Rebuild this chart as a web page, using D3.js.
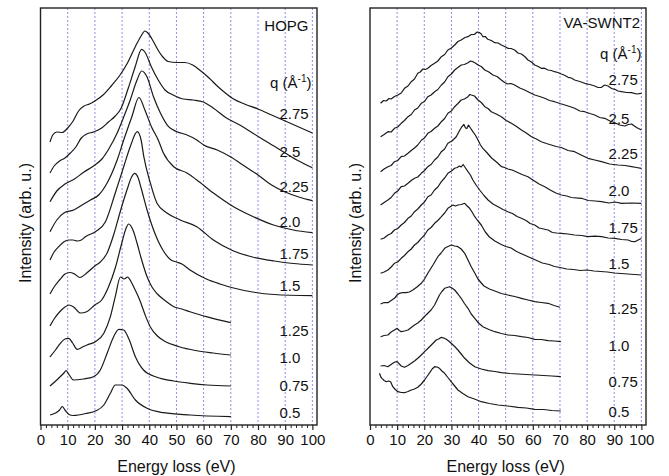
<!DOCTYPE html>
<html><head><meta charset="utf-8">
<script src="https://cdn.jsdelivr.net/npm/d3@7"></script>
<style>
body{margin:0;background:#fff}
svg{display:block}
</style>
</head><body>
<svg id="c" width="669" height="476"></svg>
<script>
// ---------------- DATA ----------------
const qValues = ["0.5","0.75","1.0","1.25","1.5","1.75","2.0","2.25","2.5","2.75"];
const energyTicks = [0,10,20,30,40,50,60,70,80,90,100];

// HOPG spectra: [energy loss (eV), intensity (arb. u., offset stacked)]
const hopg_q050 = [[3.5,9],[5.5,11],[7,14],[8,17.5],[9,14],[10.5,9.5],[12,8.5],[14,9],[17,10.7],[20.2,13],[23.3,19],[25.7,30.7],[27.5,39],[30,39],[31.8,35.7],[34.9,24],[39.2,15.7],[45.3,11.3],[55.1,9],[70,7.3]];
const hopg_q075 = [[3.5,38],[6,44],[8.6,51],[9.4,53.3],[10.6,49],[12.1,44],[15.8,45],[19.5,47.3],[22,54],[24.5,70.7],[26.9,87.3],[28.8,94.7],[30.6,94],[32.4,85.7],[34.9,67.3],[37.9,54],[42.8,46.7],[49,43],[55.1,40.7],[61.2,39],[70,38]];
const hopg_q100 = [[3.5,67],[5.5,74],[7.3,80.7],[9,85],[10.4,85.7],[11.8,81],[13.5,74.7],[15.5,77],[17.1,79],[20.2,82.3],[23.3,90.7],[25.7,107.3],[27.5,127.3],[29.4,147],[30.8,145],[32,147],[33.2,143],[34.3,137],[36.5,124],[38.5,109],[40.4,97],[43,88],[46,82.3],[51,77.3],[57,73.5],[63.5,71],[70,69]];
const hopg_q125 = [[3.5,98],[5,105],[7,112],[9,117],[10.5,119],[12.2,117],[14.7,111],[17,112.3],[20,119],[22.5,124],[25,137],[27.5,156],[30,182],[31.5,196],[32.4,200],[34,194],[35.5,181],[37,166],[39.2,147.3],[41,137],[43,130],[46,123],[49,117.3],[52,115],[55,112.3],[61,107.3],[70,101.3]];
const hopg_q150 = [[3.5,130],[5,137],[7,144],[9,150],[10.8,151.5],[12.5,150],[14.5,146.5],[17,151],[20,158],[22,162],[24.5,171],[27,190],[29.5,214],[31.8,234],[33.5,247],[34.6,250.7],[35.8,247],[37,236],[39.2,214],[41.6,194],[45,174],[48,164],[50,162],[52,160],[55,154],[61,145],[66,140],[71,136],[78,132],[86,129.5],[100,128.3]];
const hopg_q175 = [[3.5,164],[5,172],[6.7,177.3],[8.5,182],[10.4,184],[12,184],[13.5,183],[15,184],[16.5,187.3],[20.2,192.3],[23.9,202.3],[27.5,231],[30.6,257.3],[33,277.3],[35.6,292.3],[37,284],[38,267.3],[40.4,241],[42.8,221],[46.5,211],[51.4,204],[57.5,197.3],[63.6,184],[71,173],[78,167],[86,163],[93,160.5],[100,159]];
const hopg_q200 = [[3.5,192.3],[6,204],[8.6,211],[12.2,214],[15.3,219],[18.4,224],[21.4,229],[24.5,241],[28.2,264],[30.6,284],[33.6,307.3],[36.2,326.5],[38.4,314],[40.8,297.3],[43.3,284],[45.2,271],[49,257.3],[53.9,251],[57.5,244],[63.6,231],[71,217.3],[78.3,207.3],[85.7,199],[93,194],[100,191.3]];
const hopg_q225 = [[3.5,222.3],[6,233],[9,240],[12.5,245],[16,252],[19.5,258],[22.6,265],[25.1,275],[28.2,291],[30.6,307],[33,324],[35.5,344],[37.2,353],[39.2,347],[41.6,327],[44.1,311],[47.1,297.3],[50.2,292.3],[53.9,289],[57.5,284],[60,279],[65,274],[70,267],[75,258],[80,249],[85,239],[90,232],[95,227],[100,223.3]];
const hopg_q250 = [[3.5,251],[5,258],[7,263],[9,266],[11,271],[13,277],[15,286],[17,290],[19.5,292],[22.5,296],[25,302],[27.5,308],[29.5,315],[32.3,336],[34.8,357],[37.2,374.7],[38.4,372],[40.8,357],[43.3,344],[45.8,334],[48.8,329],[52.5,325],[56.2,324],[59.9,322],[63.5,316],[68.4,306],[73.3,299],[78,291],[84,281],[90,271],[95,263],[100,256.3]];
const hopg_q275 = [[3.5,282],[4.5,289],[6,292],[8,291.5],[10,296],[12,303],[14,313],[16,318],[18,320],[20,323],[23,329],[26,338],[29,348],[32,361],[35,378],[37,388],[38.4,393],[39.5,391],[41,385],[43,375],[45,367],[47,362.5],[50,361.5],[53,361.5],[56,359],[59,353],[62,346],[65,338],[68,331],[71,325],[75,320],[80,315],[85,309],[90,303],[95,297],[100,291]];

// VA-SWNT2 spectra
const swnt_q050 = [[3.5,50.7],[4,47],[4.4,45.7],[5.2,43.5],[6,42.3],[6.8,43],[7.6,42.3],[8.4,37.3],[9.3,34.5],[10.3,32.3],[11.5,31.5],[12.7,31.3],[14,32.5],[15.2,34],[16.4,35],[17.6,36.7],[18.9,40],[20.1,44],[21,47.5],[22,51.3],[22.9,55],[23.8,57.3],[24.7,57],[25.6,55.7],[26.5,53],[27.5,50.7],[28.7,46.5],[29.9,42.3],[31.2,38],[32.4,34],[34.2,30.5],[36.1,27.3],[38.5,25],[41,22.3],[44,20.5],[47.2,19],[50.8,18],[54.5,16.7],[57.6,16],[60.7,14.7],[64,14.5],[67,13.5],[70.3,13]];
const swnt_q075 = [[3.9,58],[5.2,58.5],[6.6,57.3],[7.5,59],[8.4,60.7],[9.2,62],[10,62.3],[10.8,60],[11.5,58],[12.7,56.7],[14,58.5],[15.2,60.7],[16.4,63],[17.6,65.7],[18.9,69],[20.1,72.3],[21.3,75.5],[22.6,79],[23.5,81.5],[24.4,84],[25.3,85],[26.3,86.7],[27.2,86],[28.1,84.7],[29,83],[29.9,80.7],[31.2,77.5],[32.4,74],[33.6,70],[34.9,65.7],[36.7,61],[38.6,57.3],[41,55],[43.5,53.3],[46,52.5],[48.4,51.3],[51.5,50.5],[54.5,50],[57.6,49.5],[60.7,49],[64,48.5],[67,48],[70.3,47.3]];
const swnt_q100 = [[3.9,87.3],[5.2,88.5],[6.6,89],[7.8,92],[9,94],[10,95.7],[10.8,93.5],[11.5,92.3],[12.7,93],[14,94],[15.2,96.5],[16.4,99],[17.6,101],[18.9,104],[20.1,107.5],[21.3,110.7],[22.5,114],[23.8,119],[24.7,124],[25.6,129],[26.5,132.5],[27.5,135.7],[28.4,136.5],[29.3,137.3],[30.2,136],[31.2,134],[32.4,130],[33.6,125.7],[34.8,120.5],[36.1,115.7],[37.3,110],[38.6,105.7],[40,101],[41.6,97.3],[43.8,94.5],[46,92.3],[48.4,90.5],[50.8,89],[53.3,88.5],[55.8,87.3],[58.2,86.5],[60.7,84.7],[63.1,84.5],[65.6,83.3],[68,83],[70.3,82.3]];
const swnt_q125 = [[3.9,120],[5.2,121.5],[6.6,121.3],[7.8,123.5],[9,125.7],[10,129],[10.9,130.7],[12,131.5],[13.3,131.3],[14.5,132],[15.8,134],[17.3,137],[18.9,140.7],[20.1,145],[21.3,150.7],[23.2,159],[25,167.3],[26.2,171],[27.5,175.7],[28.7,177.5],[30,179],[31.2,178],[32.4,177.3],[33.6,175],[34.9,170.7],[36.1,164],[37.3,157.3],[38.6,151],[39.8,145],[41,141],[42,138],[44,135],[46,133],[48.4,130.5],[50.8,129],[53.3,127.5],[55.8,125.7],[58.2,124],[60.7,122.3],[63.1,121.5],[65.6,120.7],[67.8,118.5],[70,116.7]];
const swnt_q150 = [[3.9,150.7],[5.2,152],[6.6,154],[7.8,157],[9,160.7],[10.2,162],[11.5,165.7],[12.7,168.5],[14,172.3],[15.2,175],[16.4,179],[17.6,181.5],[18.9,185.7],[20.1,189],[21.3,194],[22.5,196.5],[23.8,200.7],[25,203.5],[26.3,207.3],[27.5,211],[28.7,215.7],[29.7,217.5],[30.6,219],[31.5,218],[32.4,219],[33.6,219.5],[34.9,220.7],[35.8,218],[36.7,215.7],[37.6,212],[38.6,207.3],[39.8,203],[41,199],[42.5,192],[44,187],[46,183],[48,180],[50,177.5],[52,176],[54,172.5],[56,170],[58.5,167],[61,164],[63.5,161],[66,159.5],[68,157.5],[70,156.5],[72.5,155],[75,154.5],[77.5,153.5],[80,154],[82.5,153],[85,152.5],[87.5,152],[90,151],[92.5,150.5],[95,150],[97.5,149.5],[100,149]];
const swnt_q175 = [[3.9,184.7],[5.2,186],[6.6,189],[7.8,190.5],[9,194],[10.2,195.5],[11.5,199],[12.7,201.5],[14,205.7],[15.2,208],[16.4,212.3],[17.6,215],[18.9,219],[20.1,222],[21.3,227.3],[22.5,229],[23.8,234],[25,237],[26.3,242.3],[27.5,246],[28.7,250.7],[30,253],[31.2,255.7],[32.1,256.5],[33,258],[33.6,257],[34.3,259.5],[35.2,256],[36.1,252.3],[37,249],[37.9,244],[39.2,238.5],[40.4,234],[42,228.5],[43.5,224],[45.3,220],[47.2,217.3],[49,214.5],[50.8,212.3],[52.5,210.5],[54.2,207.5],[55.8,205.7],[57.5,203.5],[59,200.5],[60.7,199],[62.3,196],[64,195],[65.6,194],[67.2,191.5],[68.8,191],[70.5,190.7],[73,190],[75.4,189],[78,188.5],[80.3,187.3],[82.8,187.8],[85.3,187.3],[87.8,186],[90.2,185.7],[92.7,184.5],[95.1,184],[96.4,182.5],[97.6,182.3],[98.8,184],[100,185.5]];
const swnt_q200 = [[3.9,219],[5.2,221.5],[6.6,224],[7.8,226.5],[9,230.7],[10.2,233],[11.5,237.3],[12.7,238],[14,240.7],[15.2,243.5],[16.4,245.7],[17.6,247],[18.9,250.7],[20.1,253.5],[21.3,257.3],[22.5,259.5],[23.8,264],[25,267],[26.3,272.3],[27.5,275],[28.7,280.7],[30.2,283],[31.8,287.3],[32.7,292],[33.6,296.3],[34.6,299.5],[35.2,296],[35.7,295.5],[36.3,299],[37,296],[37.9,292.3],[38.8,289],[39.8,284],[40.7,279],[41.6,275.7],[43.2,271],[44.8,266],[46.6,262],[48.5,257.3],[49.6,256.5],[50.8,255],[52.4,254],[54,252],[56,249.5],[58.2,247.3],[60.3,243.5],[62.3,240],[64.4,237.3],[66.4,234],[68.5,231],[70.5,229],[72.5,228],[74.2,226.5],[77.9,225.7],[80.5,223.5],[83,223],[85.3,222.3],[88,221],[90.3,222],[92.7,220.7],[96.4,221],[100,220.7]];
const swnt_q225 = [[3.9,252.3],[5.2,255],[6.6,257.3],[7.8,258.5],[9,262.3],[10.2,263.5],[11.5,267.3],[12.7,268],[14,270.7],[15.2,273.5],[16.4,276],[17.6,279],[19,284],[20.1,286],[21.3,290.7],[22.5,292.5],[23.8,295.7],[25,298],[26.3,302.3],[27.5,305.5],[28.7,310.7],[30,313],[31.2,317.3],[32.4,320.5],[33.6,324],[34.8,325],[36.1,327.3],[36.8,329.5],[37.3,329],[38.5,328],[39.8,324],[41,321.5],[42.3,317.3],[43.5,315.5],[44.7,312.3],[46.5,310],[48.4,307.3],[50.2,303.5],[52.1,300.7],[54,297.5],[55.8,294],[57.6,291],[59.5,287.3],[61.3,285],[63.1,282.3],[65,280.5],[66.8,279],[68.6,277.5],[70.5,276.5],[73,273.5],[75.4,272.3],[77.8,269],[80.3,265.7],[82.8,264],[85.3,262.3],[88.3,260],[91.4,259],[94,258.5],[96.4,257.3],[98.2,256.5],[100,255.7]];
const swnt_q250 = [[3.9,287.3],[5.2,289.5],[6.6,292.3],[7.8,292],[9,295.7],[10.2,297],[11.5,300.7],[12.7,303.5],[14,307.3],[15.2,309.5],[16.4,314],[17.6,316],[18.9,320.7],[20.1,322.5],[21.3,327.3],[22.5,329],[23.8,332.3],[25,334.5],[26.3,339],[27.5,342],[28.7,347.3],[30,350],[31.2,354],[32.4,356.5],[33.6,359],[34.8,359.5],[36.1,361.3],[37,363],[37.9,362.3],[38.8,361],[39.8,359],[41,357.5],[42.3,354],[43.8,352],[45.3,349],[46.8,347.5],[48.4,344],[49.6,341.5],[50.8,340],[52,340.5],[53.3,339],[55.2,336],[57,334],[58.8,331.5],[60.7,329],[62.5,327.5],[64.4,325.7],[66.2,323.5],[68,322.3],[70,320.5],[71.8,319],[73.6,317.5],[75.4,315.7],[77.3,313],[79.1,312.3],[81,310.5],[82.8,309],[84.6,306.5],[86.5,305.7],[88.4,303],[90.2,301.3],[92,299],[93.9,298],[95.2,299.5],[96.4,300],[98.2,296.5],[100,294]];
const swnt_q275 = [[3.9,320.7],[5,323.5],[6,323],[7,325.5],[7.8,325],[9,327.5],[10.3,329],[11.5,331],[12.7,335.7],[14,338],[15.2,342.3],[16.4,345],[17.6,350.7],[18.5,352],[19.5,355],[20.4,354.5],[21.3,355.7],[22.5,358.5],[23.8,360.7],[25,363],[26.3,367.3],[27.5,369.5],[28.7,374],[30,376],[31.2,379],[32.4,382.5],[33.6,384],[35,386.5],[36.1,387.3],[37.3,389.5],[38.5,389.7],[39.5,392],[40.4,391.3],[41,390],[41.6,387.3],[42.5,387.5],[43.4,384.7],[44.7,383.5],[46,381.3],[47.2,381],[48.4,379],[49.6,377.5],[50.8,375.7],[52,375.5],[53.3,374],[54.5,371],[55.8,370],[57,367.5],[58.2,364],[59.5,362],[60.7,359],[62,357.5],[63.1,355.7],[64.3,355.8],[65.6,354],[66.8,353.5],[68,352.3],[69.2,351.5],[70.5,350],[71.7,348.8],[73,346.7],[74.2,346],[75.4,344],[77.3,342.5],[79.1,340.7],[81,339.5],[82.8,338],[84,336.5],[85.3,336.7],[86.5,339],[87.7,338],[89,335.5],[90.2,334.7],[91.4,333],[92.7,332.3],[94.5,331.5],[96.4,331.3],[98.2,330],[100,330.7]];

const hopgSeries = [hopg_q050,hopg_q075,hopg_q100,hopg_q125,hopg_q150,hopg_q175,hopg_q200,hopg_q225,hopg_q250,hopg_q275];
const swntSeries = [swnt_q050,swnt_q075,swnt_q100,swnt_q125,swnt_q150,swnt_q175,swnt_q200,swnt_q225,swnt_q250,swnt_q275];

// ---------------- LAYOUT ----------------
const FONT = '"Liberation Sans", Arial, Helvetica, sans-serif';
const TOP = 8, BOTTOM = 425;
const y = d3.scaleLinear().domain([0,416]).range([424,8]);
const hopgLabelLevels = [11.3,39,67,93.3,139,171,203,237.3,272.3,311];
const swntLabelLevels = [13,43,79,116,161,197,234,271,306,345];

const panels = [
  {name:"HOPG", series:hopgSeries, levels:hopgLabelLevels, left:40.5, right:317,
   curve:d3.curveMonotoneX, nameX:308.5, nameY:25, qX:311.5, qY:82, yTitleX:31},
  {name:"VA-SWNT2", series:swntSeries, levels:swntLabelLevels, left:370, right:646,
   curve:d3.curveLinear, nameX:640, nameY:22, qX:641.5, qY:53, yTitleX:361}
];

const svg = d3.select("#c");

panels.forEach(p => {
  const x = d3.scaleLinear().domain([0,101.7]).range([p.left, p.right]);
  const g = svg.append("g");

  // vertical dotted grid
  g.append("g").selectAll("line")
    .data(energyTicks.filter(t => t > 0))
    .join("line")
    .attr("x1", d => x(d)).attr("x2", d => x(d))
    .attr("y1", TOP).attr("y2", BOTTOM)
    .attr("stroke", "#8c8ce8").attr("stroke-width", 1)
    .attr("stroke-dasharray", "2,2");

  // spectra
  const line = d3.line().x(d => x(d[0])).y(d => y(d[1])).curve(p.curve);
  g.append("g").selectAll("path")
    .data(p.series)
    .join("path")
    .attr("d", line)
    .attr("fill", "none")
    .attr("stroke", "#1a1a1a")
    .attr("stroke-width", 1.2)
    .attr("stroke-linejoin", "round");

  // frame
  g.append("rect")
    .attr("x", p.left).attr("y", TOP)
    .attr("width", p.right - p.left).attr("height", BOTTOM - TOP)
    .attr("fill", "none").attr("stroke", "#222").attr("stroke-width", 1.4);

  // bottom axis: major
  const ax = g.append("g").attr("transform", `translate(0,${BOTTOM})`)
    .call(d3.axisBottom(x).tickValues(energyTicks).tickSize(5).tickPadding(4).tickFormat(d3.format("d")));
  ax.select(".domain").remove();
  ax.selectAll("line").attr("stroke", "#222").attr("stroke-width", 1.2);
  ax.selectAll("text").attr("font-family", FONT).attr("font-size", 15).attr("fill", "#111");
  // minor ticks
  const axm = g.append("g").attr("transform", `translate(0,${BOTTOM})`)
    .call(d3.axisBottom(x).tickValues(d3.range(0,101,2).filter(v => v % 10 !== 0)).tickSize(3).tickFormat(""));
  axm.select(".domain").remove();
  axm.selectAll("line").attr("stroke", "#222").attr("stroke-width", 1);

  // x title
  g.append("text")
    .attr("x", (x(0) + x(100)) / 2).attr("y", 472)
    .attr("text-anchor", "middle")
    .attr("font-family", FONT).attr("font-size", 16).attr("fill", "#111")
    .text("Energy loss (eV)");

  // y title
  g.append("text")
    .attr("transform", `translate(${p.yTitleX},223) rotate(-90)`)
    .attr("text-anchor", "middle")
    .attr("font-family", FONT).attr("font-size", 16).attr("fill", "#111")
    .text("Intensity (arb. u.)");

  // sample name
  g.append("text")
    .attr("x", p.nameX).attr("y", p.nameY)
    .attr("text-anchor", "end").attr("dominant-baseline", "central")
    .attr("font-family", FONT).attr("font-size", 15).attr("fill", "#111")
    .text(p.name);

  // q header
  const qt = g.append("text")
    .attr("x", p.qX).attr("y", p.qY + 5.5)
    .attr("text-anchor", "end")
    .attr("font-family", FONT).attr("font-size", 15).attr("fill", "#111");
  qt.append("tspan").text("q (Å");
  qt.append("tspan").attr("font-size", 10).attr("dy", -6).text("-1");
  qt.append("tspan").attr("dy", 6).text(")");

  // q labels
  g.append("g").selectAll("text")
    .data(qValues)
    .join("text")
    .attr("x", x(87.9))
    .attr("y", (d, i) => y(p.levels[i]))
    .attr("dominant-baseline", "central")
    .attr("font-family", FONT).attr("font-size", 15).attr("fill", "#111")
    .text(d => d);
});
</script>
</body></html>
